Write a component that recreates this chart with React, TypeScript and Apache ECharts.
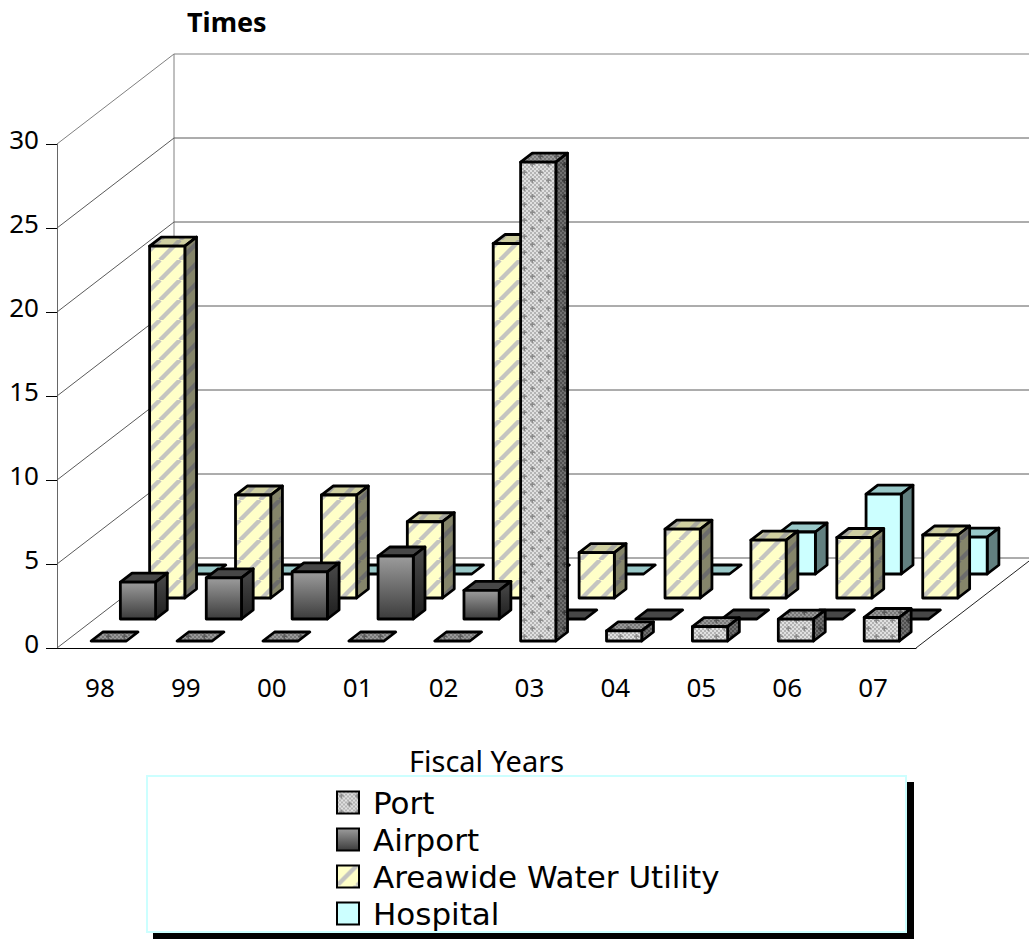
import React, { useEffect, useRef } from "react";
import * as echarts from "echarts";

const categories = ["98", "99", "00", "01", "02", "03", "04", "05", "06", "07"];
const yTicks = [0, 5, 10, 15, 20, 25, 30];
const portValues = [0, 0, 0, 0, 0, 28.5, 0.6, 0.85, 1.3, 1.4];
const airportValues = [2.2, 2.45, 2.8, 3.75, 1.7, 0, 0, 0, 0, 0];
const waterValues = [20.95, 6.13, 6.13, 4.54, 21.1, 2.7, 4.1, 3.45, 3.6, 3.75];
const hospitalValues = [0, 0, 0, 0, 0, 0, 0, 2.5, 4.75, 2.2];
const legendNames = ["Port", "Airport", "Areawide Water Utility", "Hospital"];

const FONT = "'Noto Sans', sans-serif";
const DEPTH_X = 117;
const DEPTH_Y = 90;
const ROWS = 4;
const ROW_LIFT = [7, 29, 50, 74];

function tile(size: number, draw: (c: CanvasRenderingContext2D) => void) {
  const canvas = document.createElement("canvas");
  canvas.width = size;
  canvas.height = size;
  draw(canvas.getContext("2d") as CanvasRenderingContext2D);
  return { image: canvas, repeat: "repeat", imageWidth: size, imageHeight: size };
}

function stripes(bg: string, fg: string) {
  const s = 20;
  return tile(s, (c) => {
    c.fillStyle = bg;
    c.fillRect(0, 0, s, s);
    c.strokeStyle = fg;
    c.lineWidth = 4.4;
    for (const off of [-s, 0, s]) {
      c.beginPath();
      c.moveTo(off, s);
      c.lineTo(off + s, 0);
      c.stroke();
    }
  });
}

function dots(a: string, b: string, plus: string) {
  return tile(16, (c) => {
    for (let y = 0; y < 16; y++) {
      for (let x = 0; x < 16; x++) {
        c.fillStyle = (Math.floor(x / 2) + Math.floor(y / 2)) % 2 === 0 ? a : b;
        c.fillRect(x, y, 1, 1);
      }
    }
    c.fillStyle = plus;
    for (const [px, py] of [[4, 4], [12, 12]]) {
      c.fillRect(px - 2, py - 0.5, 5, 1.5);
      c.fillRect(px - 0.5, py - 2, 1.5, 5);
    }
  });
}

const vGrad = (top: string, bottom: string) => ({
  type: "linear", x: 0, y: 0, x2: 0, y2: 1,
  colorStops: [{ offset: 0, color: top }, { offset: 1, color: bottom }],
});

export default function App() {
  const ref = useRef<HTMLDivElement>(null);
  useEffect(() => {
    const chart = echarts.init(ref.current as HTMLDivElement, undefined, { renderer: "svg" });

    const looks = [
      {
        front: dots("#e0e0e0", "#b4b4b4", "#8c8c8c"),
        top: dots("#9a9a9a", "#787878", "#5a5a5a"),
        side: dots("#707070", "#505050", "#383838"),
      },
      { front: vGrad("#9c9c9c", "#3c3c3c"), top: "#474747", side: vGrad("#4a4a4a", "#1e1e1e") },
      {
        front: stripes("#ffffc8", "#c4c4c0"),
        top: stripes("#cfcfa0", "#a8a8a0"),
        side: stripes("#85856a", "#6c6c6c"),
      },
      { front: "#ccffff", top: "#99c8c8", side: "#628080" },
    ];

    const box = (row: number) => (params: any, api: any) => {
      const i = api.value(0);
      const v = api.value(1);
      const band = api.size([1, 0])[0];
      const base = api.coord([i, 0]);
      const top = api.coord([i, v]);
      const sx = DEPTH_X / ROWS;
      const sy = DEPTH_Y / ROWS;
      const fx = (row + 0.3) * sx;
      const fy = ROW_LIFT[row];
      const dx = 0.4 * sx;
      const dy = 0.4 * sy;
      const l = base[0] - band * 0.205 + fx;
      const r = base[0] + band * 0.205 + fx;
      const b = base[1] - fy;
      const t = top[1] - fy;
      const look = looks[row];
      const stroke = { stroke: "#000", lineWidth: 2.8, lineJoin: "round" };
      const children: any[] = [
        {
          type: "polygon",
          shape: { points: [[l, t], [r, t], [r + dx, t - dy], [l + dx, t - dy]] },
          style: { fill: look.top, ...stroke },
        },
      ];
      if (v > 0) {
        children.push({
          type: "polygon",
          shape: { points: [[r, t], [r + dx, t - dy], [r + dx, b - dy], [r, b]] },
          style: { fill: look.side, ...stroke },
        });
        children.push({
          type: "polygon",
          shape: { points: [[l, t], [r, t], [r, b], [l, b]] },
          style: { fill: look.front, ...stroke },
        });
      }
      return { type: "group", children };
    };

    const renderWalls = (params: any, api: any) => {
      const v = api.value(1);
      const p = api.coord([0, v]);
      const x0 = params.coordSys.x;
      const w = params.coordSys.width;
      const y = p[1];
      const children: any[] = [
        {
          type: "polyline",
          shape: { points: [[x0, y], [x0 + DEPTH_X, y - DEPTH_Y], [x0 + DEPTH_X + w, y - DEPTH_Y]] },
          style: { fill: "none", stroke: v === 30 ? "#808080" : "#5a5a5a", lineWidth: 1 },
        },
      ];
      if (v === 0) {
        children.push({
          type: "line",
          shape: { x1: x0 + w, y1: y, x2: x0 + w + DEPTH_X, y2: y - DEPTH_Y },
          style: { stroke: "#222", lineWidth: 1 },
        });
        children.push({
          type: "line",
          shape: { x1: x0 + DEPTH_X, y1: y - DEPTH_Y, x2: x0 + DEPTH_X, y2: params.coordSys.y - DEPTH_Y },
          style: { stroke: "#808080", lineWidth: 1 },
        });
      }
      return { type: "group", children };
    };

    const valueSets = [portValues, airportValues, waterValues, hospitalValues];
    const barSeries = valueSets.map((values, row) => ({
      type: "custom",
      name: legendNames[row],
      coordinateSystem: "cartesian2d",
      clip: false,
      z: 10 - row,
      encode: { x: 0, y: 1 },
      data: values.map((v, i) => [i, v]),
      renderItem: box(row),
      itemStyle: { color: "#ccc" },
    }));

    const legendIcons = [
      dots("#e0e0e0", "#b4b4b4", "#8c8c8c"),
      vGrad("#9c9c9c", "#3c3c3c"),
      stripes("#ffffc8", "#c4c4c0"),
      "#ccffff",
    ];

    chart.setOption({
      animation: false,
      backgroundColor: "#fff",
      title: {
        text: "Times",
        left: 187,
        top: 8,
        padding: 0,
        textStyle: { fontFamily: FONT, fontSize: 27, fontWeight: "bold", color: "#000" },
      },
      grid: { left: 57, top: 144, width: 859, height: 504, containLabel: false },
      xAxis: {
        type: "category",
        data: categories,
        name: "Fiscal Years",
        nameLocation: "middle",
        nameGap: 98,
        nameTextStyle: { fontFamily: FONT, fontSize: 29, color: "#000" },
        axisLine: { lineStyle: { color: "#000", width: 1 } },
        axisTick: { length: 11, lineStyle: { color: "#444", width: 1 } },
        axisLabel: { fontFamily: FONT, fontSize: 26, color: "#000", margin: 26 },
        splitLine: { show: false },
      },
      yAxis: {
        type: "value",
        min: 0,
        max: 30,
        interval: 5,
        axisLine: { show: true, lineStyle: { color: "#666", width: 1 } },
        axisTick: { show: true, length: 11, lineStyle: { color: "#000", width: 1 } },
        axisLabel: { fontFamily: FONT, fontSize: 26, color: "#000", margin: 18, verticalAlign: "bottom", lineHeight: 10 },
        splitLine: { show: false },
      },
      legend: {
        orient: "vertical",
        left: 336,
        top: 787,
        height: 170,
        padding: 0,
        itemWidth: 22,
        itemHeight: 22,
        itemGap: 6,
        selectedMode: false,
        icon: "rect",
        textStyle: { fontFamily: "'DejaVu Sans', sans-serif", fontSize: 31, color: "#000", lineHeight: 22, padding: [0, 0, 0, 9] },
        data: legendNames.map((name, i) => ({
          name,
          icon: "rect",
          itemStyle: { color: legendIcons[i], borderColor: "#000", borderWidth: 2 },
        })),
      },
      graphic: [
        { type: "rect", z: 0, shape: { x: 153, y: 782, width: 761, height: 157 }, style: { fill: "#000" } },
        {
          type: "rect",
          z: 1,
          shape: { x: 147, y: 776, width: 759, height: 156 },
          style: { fill: "#fff", stroke: "#ccffff", lineWidth: 2 },
        },
      ],
      series: [
        {
          type: "custom",
          name: "walls",
          coordinateSystem: "cartesian2d",
          clip: false,
          z: 1,
          encode: { x: 0, y: 1 },
          data: yTicks.map((v) => [0, v]),
          renderItem: renderWalls,
        },
        ...barSeries,
      ],
    });
    return () => chart.dispose();
  }, []);
  return <div ref={ref} style={{ position: "absolute", left: 0, top: 0, width: 1029, height: 939 }} />;
}
